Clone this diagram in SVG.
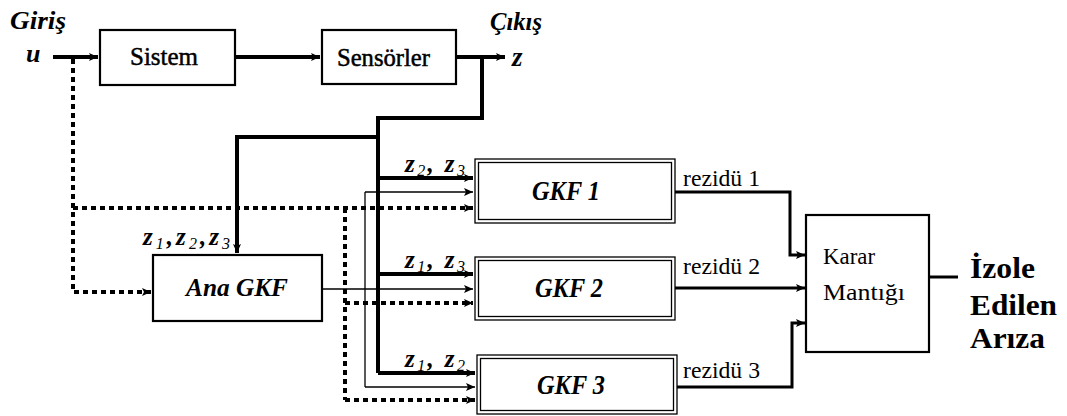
<svg xmlns="http://www.w3.org/2000/svg" width="1067" height="416" viewBox="0 0 1067 416">
<defs>
<marker id="ah" markerUnits="userSpaceOnUse" markerWidth="12" markerHeight="10" refX="9" refY="5" orient="auto">
<path d="M0,1 L9,5 L0,9 L2,5 Z" fill="#000"/>
</marker>
</defs>
<style>
.box{fill:#fff;stroke:#000;stroke-width:2.2}
.dbl{fill:#fff;stroke:#000;stroke-width:1.3}
.thick{fill:none;stroke:#000;stroke-width:4}
.med{fill:none;stroke:#000;stroke-width:3}
.thin{fill:none;stroke:#000;stroke-width:1.3}
.dot{fill:none;stroke:#000;stroke-width:4;stroke-dasharray:5 4}
.t{font-family:"Liberation Serif","Times New Roman",serif;fill:#000}
.th{font-family:"Liberation Serif","Times New Roman",serif;fill:#000;stroke:#000;stroke-width:0.5}
.bi{font-family:"Liberation Serif","Times New Roman",serif;font-weight:bold;font-style:italic;fill:#000}
.b{font-family:"Liberation Serif","Times New Roman",serif;font-weight:bold;fill:#000}
</style>
<rect width="1067" height="416" fill="#fff"/>
<g id="connectors">
<path class="thick" d="M53,57 L98,57" marker-end="url(#ah)"/>
<path class="thick" d="M235,57 L320,57" marker-end="url(#ah)"/>
<path class="thick" d="M456,57 L505,57" marker-end="url(#ah)"/>
<path class="thick" d="M482,57 L482,118 L378,118 L378,373"/>
<path class="thick" d="M378,137 L237,137 L237,253" marker-end="url(#ah)"/>
<path class="thick" d="M378,178 L473,178" marker-end="url(#ah)"/>
<path class="thick" d="M378,274 L473,274" marker-end="url(#ah)"/>
<path class="thick" d="M378,373 L475,373" marker-end="url(#ah)"/>
<path class="thin" d="M322,289 L473,289" marker-end="url(#ah)"/>
<path class="thin" d="M365,192 L365,387"/>
<path class="thin" d="M365,192 L473,192" marker-end="url(#ah)"/>
<path class="thin" d="M365,387 L475,387" marker-end="url(#ah)"/>
<path class="dot" d="M73,59 L73,292 L151,292" marker-end="url(#ah)"/>
<path class="dot" d="M73,208 L473,208" marker-end="url(#ah)"/>
<path class="dot" d="M345,208 L345,400"/>
<path class="dot" d="M345,303 L473,303" marker-end="url(#ah)"/>
<path class="dot" d="M345,400 L475,400" marker-end="url(#ah)"/>
<path class="med" d="M675,192 L790,192 L790,255 L805,255" marker-end="url(#ah)"/>
<path class="med" d="M675,288 L805,288" marker-end="url(#ah)"/>
<path class="med" d="M677,387 L792,387 L792,323 L805,323" marker-end="url(#ah)"/>
<path class="med" d="M929,277 L958,277"/>
</g>
<g id="sistem">
<rect class="box" x="100" y="30" width="135" height="55"/>
<text class="th" x="130" y="65" font-size="25" textLength="68" lengthAdjust="spacingAndGlyphs">Sistem</text>
</g>
<g id="sensorler">
<rect class="box" x="322" y="30" width="134" height="54"/>
<text class="th" x="337" y="66" font-size="25" textLength="93" lengthAdjust="spacingAndGlyphs">Sensörler</text>
</g>
<g id="ana-gkf">
<rect class="box" x="153" y="255" width="169" height="66"/>
<text class="bi" x="186" y="296" font-size="25" textLength="102" lengthAdjust="spacingAndGlyphs">Ana GKF</text>
</g>
<g id="gkf1">
<rect class="dbl" x="475" y="159" width="200" height="64"/>
<rect class="dbl" x="478.5" y="162.5" width="193" height="57"/>
<text class="bi" x="532" y="200" font-size="27" textLength="68" lengthAdjust="spacingAndGlyphs">GKF 1</text>
</g>
<g id="gkf2">
<rect class="dbl" x="475" y="257" width="200" height="63"/>
<rect class="dbl" x="478.5" y="260.5" width="193" height="56"/>
<text class="bi" x="535" y="297" font-size="27" textLength="68" lengthAdjust="spacingAndGlyphs">GKF 2</text>
</g>
<g id="gkf3">
<rect class="dbl" x="477" y="355" width="200" height="59"/>
<rect class="dbl" x="480.5" y="358.5" width="193" height="52"/>
<text class="bi" x="537" y="394" font-size="27" textLength="68" lengthAdjust="spacingAndGlyphs">GKF 3</text>
</g>
<g id="karar">
<rect class="box" x="806" y="215" width="123" height="137"/>
<text class="t" x="823" y="264" font-size="24" textLength="52" lengthAdjust="spacingAndGlyphs">Karar</text>
<text class="t" x="823" y="300" font-size="24" textLength="82" lengthAdjust="spacingAndGlyphs">Mantığı</text>
</g>
<g id="labels">
<text class="bi" x="10" y="29" font-size="26" textLength="56" lengthAdjust="spacingAndGlyphs">Giriş</text>
<text class="bi" x="26" y="62" font-size="26">u</text>
<text class="bi" x="490" y="30" font-size="25" textLength="52" lengthAdjust="spacingAndGlyphs">Çıkış</text>
<text class="bi" x="512" y="66" font-size="27">z</text>
<text class="bi" x="143" y="245" font-size="25" textLength="87" lengthAdjust="spacing">z<tspan font-size="16" font-weight="normal" dy="4">1</tspan><tspan dy="-4">,z</tspan><tspan font-size="16" font-weight="normal" dy="4">2</tspan><tspan dy="-4">,z</tspan><tspan font-size="16" font-weight="normal" dy="4">3</tspan></text>
<text class="bi" x="405" y="172" font-size="25" textLength="60" lengthAdjust="spacing">z<tspan font-size="16" font-weight="normal" dy="4">2</tspan><tspan dy="-4">, z</tspan><tspan font-size="16" font-weight="normal" dy="4">3</tspan></text>
<text class="bi" x="405" y="268" font-size="25" textLength="60" lengthAdjust="spacing">z<tspan font-size="16" font-weight="normal" dy="4">1</tspan><tspan dy="-4">, z</tspan><tspan font-size="16" font-weight="normal" dy="4">3</tspan></text>
<text class="bi" x="405" y="367" font-size="25" textLength="60" lengthAdjust="spacing">z<tspan font-size="16" font-weight="normal" dy="4">1</tspan><tspan dy="-4">, z</tspan><tspan font-size="16" font-weight="normal" dy="4">2</tspan></text>
<text class="t" x="683" y="186" font-size="23" textLength="77" lengthAdjust="spacingAndGlyphs">rezidü 1</text>
<text class="t" x="683" y="274" font-size="23" textLength="77" lengthAdjust="spacingAndGlyphs">rezidü 2</text>
<text class="t" x="683" y="378" font-size="23" textLength="77" lengthAdjust="spacingAndGlyphs">rezidü 3</text>
<text class="b" x="970" y="278" font-size="30" textLength="65" lengthAdjust="spacingAndGlyphs">İzole</text>
<text class="b" x="970" y="315" font-size="30" textLength="87" lengthAdjust="spacingAndGlyphs">Edilen</text>
<text class="b" x="970" y="348" font-size="30" textLength="75" lengthAdjust="spacingAndGlyphs">Arıza</text>
</g>
</svg>
